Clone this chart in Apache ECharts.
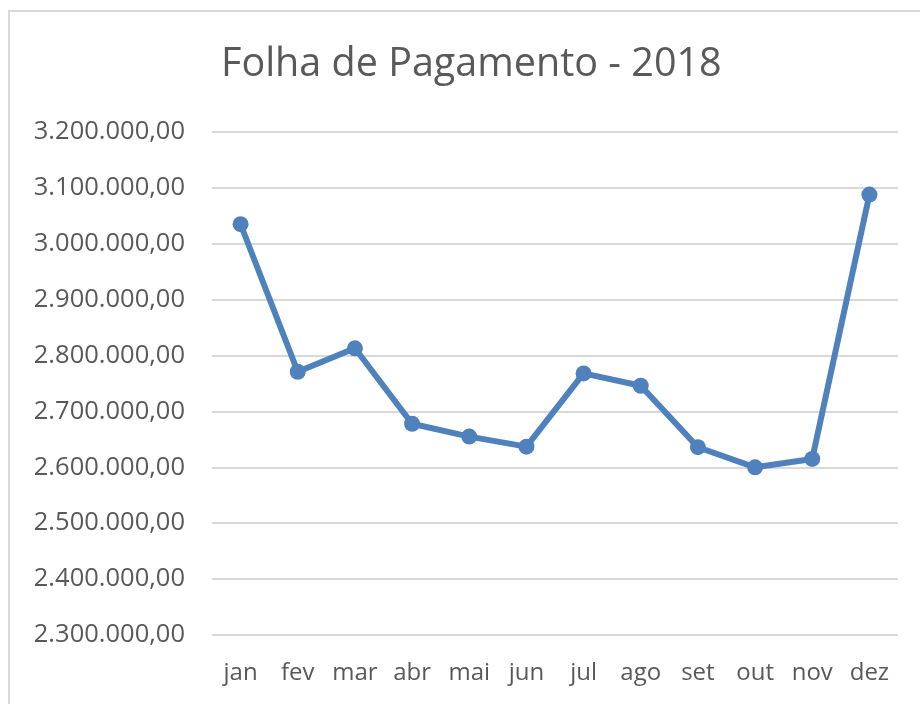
<!DOCTYPE html>
<html>
<head>
<meta charset="utf-8">
<script src="https://cdn.jsdelivr.net/npm/echarts@6/dist/echarts.min.js"></script>
<style>
  html, body { margin: 0; padding: 0; background: #fff; }
  #line-charts { width: 920px; height: 704px; }
</style>
</head>
<body>
<div id="line-charts"></div>
<script>
// meses e valores da folha
var meses = ["jan", "fev", "mar", "abr", "mai", "jun", "jul", "ago", "set", "out", "nov", "dez"];
var folha = [3035000, 2771000, 2813000, 2678000, 2655000, 2637000, 2768000, 2746000, 2636000, 2600000, 2615000, 3088000];
var eixoMin = 2300000;
var eixoMax = 3200000;
var passo = 100000;

function formatBR(v) {
  var s = Math.round(v).toString();
  s = s.replace(/\B(?=(\d{3})+(?!\d))/g, ".");
  return s + ",00";
}

var fonte = "'Open Sans', 'DejaVu Sans', sans-serif";
var cinza = "#595959";

var myCharts = echarts.init(document.getElementById("line-charts"));
myCharts.setOption({
  animation: false,
  backgroundColor: "#fff",
  graphic: [{
    type: "rect",
    shape: { x: 9, y: 11, width: 940, height: 720 },
    style: { fill: "none", stroke: "#d9d9d9", lineWidth: 2 },
    silent: true
  }],
  title: {
    text: "Folha de Pagamento - 2018",
    left: 216,
    top: 40,
    textStyle: { fontFamily: fonte, fontSize: 39.5, fontWeight: "normal", color: cinza }
  },
  grid: { left: 212, right: 22, top: 132, bottom: 69 },
  xAxis: {
    type: "category",
    data: meses,
    boundaryGap: true,
    axisLine: { show: false },
    axisTick: { show: false },
    axisLabel: { fontFamily: fonte, fontSize: 24, color: cinza, margin: 26, interval: 0 }
  },
  yAxis: {
    type: "value",
    min: eixoMin,
    max: eixoMax,
    interval: passo,
    axisLine: { show: false },
    axisTick: { show: false },
    splitLine: { lineStyle: { color: "#d9d9d9", width: 2 } },
    axisLabel: {
      fontFamily: fonte, fontSize: 25.5, color: cinza, margin: 27,
      formatter: formatBR
    }
  },
  series: [{
    name: "Folha",
    type: "line",
    data: folha,
    symbol: "circle",
    symbolSize: 16,
    lineStyle: { color: "#4f81bd", width: 6 },
    itemStyle: { color: "#4f81bd" }
  }]
});
</script>
</body>
</html>
